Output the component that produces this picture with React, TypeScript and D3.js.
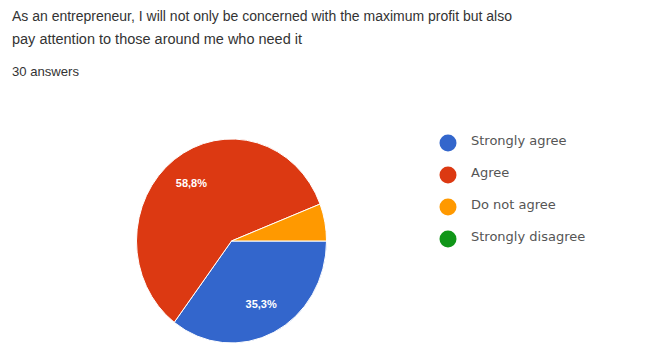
import React from "react";
import * as d3 from "d3";

const categories = ["Strongly agree", "Agree", "Do not agree", "Strongly disagree"];
const values = [35.3, 58.8, 5.9, 0];
const colors = ["#3366cc", "#dc3912", "#ff9900", "#109618"];
const labels = ["35,3%", "58,8%", "", ""];
const titleLines = [
  "As an entrepreneur, I will not only be concerned with the maximum profit but also",
  "pay attention to those around me who need it",
];
const subtitle = "30 answers";

export default function App() {
  const W = 671, H = 345;
  const cx = 231.5, cy = 241, r = 95, sy = 102 / 95;
  const pie = d3.pie<number>().sort(null).startAngle(Math.PI / 2).endAngle(Math.PI / 2 + 2 * Math.PI);
  const arcs = pie(values);
  const arc = d3.arc<d3.PieArcDatum<number>>().innerRadius(0).outerRadius(r);
  const labelArc = d3.arc<d3.PieArcDatum<number>>().innerRadius(r * 0.7).outerRadius(r * 0.7);
  const legendY = d3.scalePoint<string>().domain(categories).range([143, 239]);
  const font = "'Liberation Sans', Arial, sans-serif";
  const legendFont = "'DejaVu Sans', sans-serif";
  return (
    <svg width={W} height={H} style={{ position: "absolute", left: 0, top: 0, background: "#fff" }}>
      <text x={12} y={21} fontSize={14} fill="#333" fontFamily={font} textLength={500} lengthAdjust="spacingAndGlyphs">{titleLines[0]}</text>
      <text x={12} y={44} fontSize={14} fill="#333" fontFamily={font} textLength={290} lengthAdjust="spacingAndGlyphs">{titleLines[1]}</text>
      <text x={12} y={76} fontSize={13} fill="#333" fontFamily={font} textLength={67} lengthAdjust="spacingAndGlyphs">{subtitle}</text>
      <g transform={`translate(${cx},${cy}) scale(1,${sy})`}>
        {arcs.map((a, i) => a.value > 0 ? (
          <path key={i} d={arc(a) || ""} fill={colors[i]} stroke="#fff" strokeWidth={1} vectorEffect="non-scaling-stroke" />
        ) : null)}
      </g>
      <g transform={`translate(${cx},${cy})`}>
        {arcs.map((a, i) => {
          if (!labels[i]) return null;
          const [lx, ly] = labelArc.centroid(a);
          return (
            <text key={"l" + i} x={lx} y={ly * sy} fill="#fff" fontSize={11} fontWeight="bold" textAnchor="middle" dominantBaseline="middle" fontFamily={font}>{labels[i]}</text>
          );
        })}
      </g>
      {categories.map((c, i) => (
        <g key={c}>
          <circle cx={448} cy={legendY(c)!} r={8.5} fill={colors[i]} />
          <text x={471} y={legendY(c)! - 2} fontSize={13} fill="#555" fontFamily={legendFont} dominantBaseline="middle">{c}</text>
        </g>
      ))}
    </svg>
  );
}
